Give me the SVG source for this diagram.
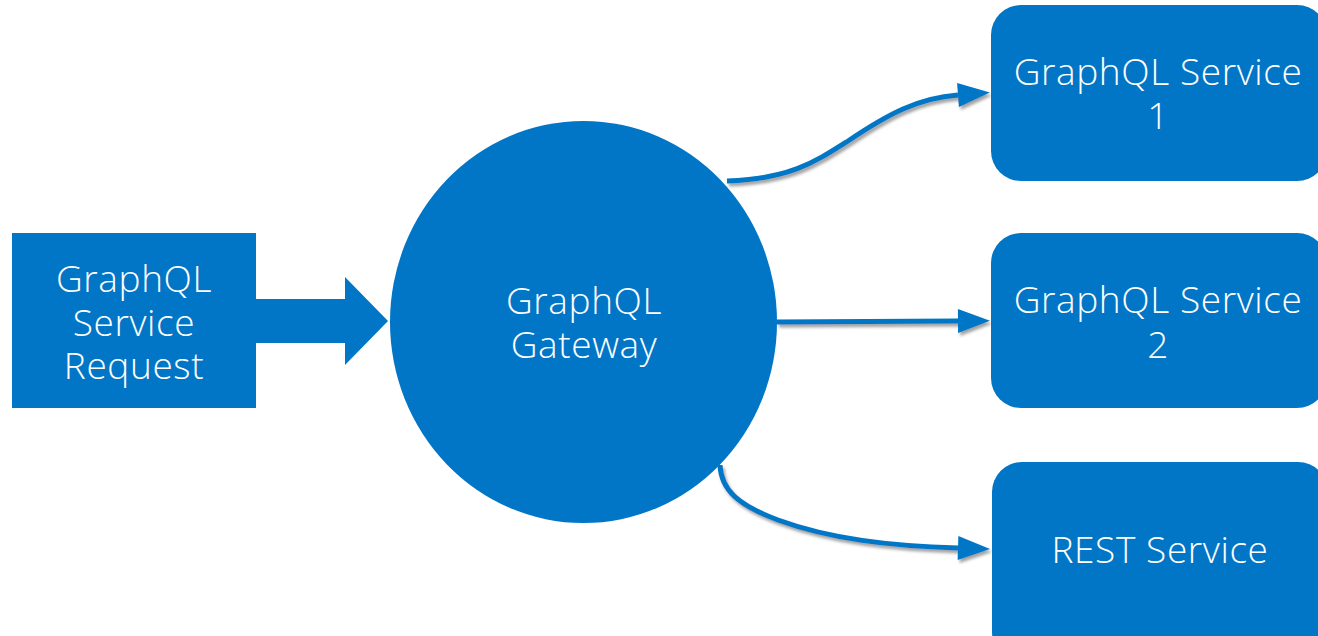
<svg xmlns="http://www.w3.org/2000/svg" width="1318" height="636" viewBox="0 0 1318 636">
  <style>
    .node { fill: #0176C6; }
    .label { fill: #ffffff; font-family: "Open Sans", "Liberation Sans", sans-serif; font-weight: 300; font-size: 37px; letter-spacing: 0.6px; text-anchor: middle; }
    .link { fill: none; stroke: #0176C6; stroke-width: 5; }
  </style>
  <defs>
    <filter id="shadow" x="-10%" y="-30%" width="130%" height="170%">
      <feDropShadow dx="2" dy="3" stdDeviation="1.6" flood-color="#555" flood-opacity="0.55"/>
    </filter>
    <marker id="head" markerUnits="userSpaceOnUse" markerWidth="34" markerHeight="26" refX="0" refY="12" orient="auto" overflow="visible">
      <path d="M0,0 L32,12 L0,24 Z" fill="#0176C6"/>
    </marker>
  </defs>

  <!-- connectors -->
  <g id="connectors">
    <path id="request-arrow" class="node" d="M256,299 H345 V277 L388,321 L345,365 V343 H256 Z"/>
    <g filter="url(#shadow)">
      <path class="link" d="M727,181 C790,179 815,162 848,141 C888,114 918,98 958,95" marker-end="url(#head)"/>
      <path class="link" d="M777,322 L958,321" marker-end="url(#head)"/>
      <path class="link" d="M720,465 C721,490 738,505 778,520 C830,539 890,546 958,548" marker-end="url(#head)"/>
    </g>
  </g>

  <!-- request block -->
  <g id="request">
    <rect class="node" x="12" y="233" width="244" height="175"/>
    <text class="label" x="134" y="292">GraphQL</text>
    <text class="label" x="134" y="336">Service</text>
    <text class="label" x="134" y="379">Request</text>
  </g>

  <!-- gateway -->
  <g id="gateway">
    <ellipse class="node" cx="583.5" cy="322" rx="193.5" ry="201"/>
    <text class="label" x="584" y="314">GraphQL</text>
    <text class="label" x="584" y="358">Gateway</text>
  </g>

  <!-- downstream services -->
  <g id="service1">
    <rect class="node" x="991" y="5" width="336" height="176" rx="30"/>
    <text class="label" x="1158" y="85">GraphQL Service</text>
    <text class="label" x="1158" y="129">1</text>
  </g>
  <g id="service2">
    <rect class="node" x="991" y="233" width="336" height="175" rx="30"/>
    <text class="label" x="1158" y="313">GraphQL Service</text>
    <text class="label" x="1158" y="358">2</text>
  </g>
  <g id="rest">
    <rect class="node" x="992" y="462" width="336" height="200" rx="30"/>
    <text class="label" x="1160" y="563">REST Service</text>
  </g>
</svg>
